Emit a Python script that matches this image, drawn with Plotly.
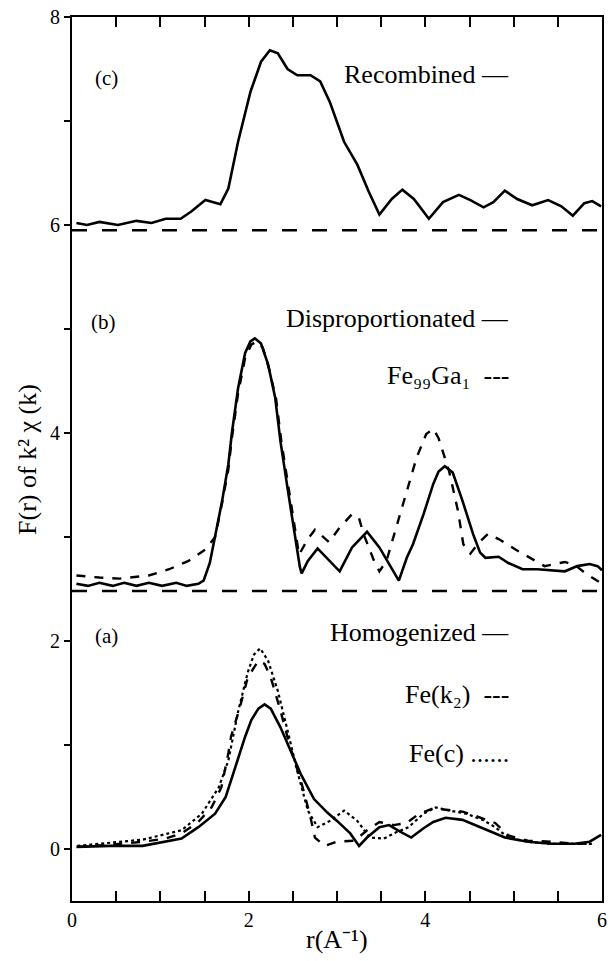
import plotly.graph_objects as go

# ---------------- data ----------------
# (c) Recombined
rec_x = [0.05, 0.17, 0.31, 0.52, 0.73, 0.90, 1.06, 1.23, 1.35, 1.51, 1.68, 1.77, 1.88, 2.02,
         2.14, 2.24, 2.33, 2.44, 2.55, 2.70, 2.81, 2.92, 3.08, 3.23, 3.36, 3.48, 3.62, 3.74,
         3.87, 4.04, 4.20, 4.38, 4.51, 4.66, 4.77, 4.90, 5.04, 5.21, 5.39, 5.54, 5.67, 5.80,
         5.89, 5.99]
rec_y = [6.02, 6.00, 6.03, 6.00, 6.04, 6.02, 6.06, 6.06, 6.13, 6.24, 6.20, 6.35, 6.80, 7.28,
         7.57, 7.68, 7.65, 7.50, 7.44, 7.44, 7.38, 7.18, 6.80, 6.58, 6.32, 6.10, 6.25, 6.34,
         6.25, 6.06, 6.22, 6.29, 6.24, 6.17, 6.22, 6.33, 6.25, 6.19, 6.24, 6.18, 6.09, 6.21,
         6.23, 6.18]

# (b) Disproportionated (solid)
dis_x = [0.05, 0.18, 0.31, 0.46, 0.59, 0.73, 0.87, 1.02, 1.18, 1.30, 1.43, 1.49, 1.56, 1.62,
         1.70, 1.77, 1.81, 1.88, 1.96, 2.02, 2.07, 2.14, 2.22, 2.30, 2.36, 2.44, 2.52, 2.58,
         2.60, 2.67, 2.78, 2.89, 3.03, 3.17, 3.34, 3.48, 3.62, 3.70, 3.79, 3.86, 3.98, 4.09,
         4.15, 4.22, 4.31, 4.42, 4.54, 4.62, 4.68, 4.83, 4.94, 5.10, 5.27, 5.43, 5.58, 5.72,
         5.86, 5.95, 6.00]
dis_y = [2.55, 2.53, 2.56, 2.53, 2.56, 2.53, 2.56, 2.53, 2.56, 2.53, 2.55, 2.58, 2.75, 3.00,
         3.35, 3.70, 4.00, 4.43, 4.77, 4.88, 4.91, 4.86, 4.66, 4.34, 3.92, 3.47, 3.03, 2.71,
         2.65, 2.77, 2.89, 2.79, 2.67, 2.90, 3.05, 2.90, 2.69, 2.58, 2.80, 2.93, 3.22, 3.51,
         3.63, 3.68, 3.62, 3.35, 3.03, 2.85, 2.80, 2.81, 2.75, 2.69, 2.69, 2.68, 2.67, 2.72,
         2.74, 2.72, 2.68]

# (b) Fe99Ga1 (dashed)
fega_x = [0.05, 0.31, 0.54, 0.87, 1.10, 1.32, 1.51, 1.62, 1.70, 1.77, 1.81, 1.88, 1.96, 2.03,
          2.09, 2.16, 2.23, 2.31, 2.37, 2.45, 2.53, 2.57, 2.67, 2.75, 2.83, 2.91, 3.02, 3.17,
          3.25, 3.30, 3.42, 3.48, 3.56, 3.67, 3.79, 3.90, 4.01, 4.09, 4.15, 4.27, 4.37, 4.43,
          4.51, 4.60, 4.71, 4.83, 5.02, 5.21, 5.35, 5.58, 5.71, 5.83, 6.00]
fega_y = [2.63, 2.61, 2.60, 2.63, 2.69, 2.77, 2.88, 3.00, 3.33, 3.65, 3.95, 4.38, 4.72, 4.85,
          4.88, 4.82, 4.62, 4.33, 3.92, 3.47, 3.03, 2.83, 2.98, 3.07, 3.01, 2.95, 3.08, 3.22,
          3.18, 3.03, 2.77, 2.67, 2.77, 3.09, 3.44, 3.76, 3.99, 4.04, 3.95, 3.63, 3.25, 2.93,
          2.84, 2.94, 3.03, 2.98, 2.88, 2.79, 2.72, 2.76, 2.72, 2.64, 2.55]

# (a) Homogenized (solid)
hom_x = [0.05, 0.43, 0.80, 1.06, 1.24, 1.43, 1.62, 1.74, 1.85, 1.96, 2.03, 2.11, 2.18, 2.25,
         2.36, 2.47, 2.59, 2.74, 2.89, 3.00, 3.15, 3.25, 3.34, 3.48, 3.59, 3.71, 3.84, 3.98,
         4.09, 4.23, 4.42, 4.65, 4.90, 5.16, 5.43, 5.69, 5.86, 5.99]
hom_y = [0.02, 0.03, 0.03, 0.07, 0.10, 0.21, 0.34, 0.50, 0.79, 1.08, 1.24, 1.35, 1.39, 1.35,
         1.17, 0.95, 0.72, 0.48, 0.35, 0.27, 0.15, 0.03, 0.11, 0.21, 0.23, 0.17, 0.11, 0.20,
         0.26, 0.30, 0.28, 0.20, 0.11, 0.07, 0.05, 0.05, 0.07, 0.135]

# (a) Fe(k2) (dashed)
fek_x = [0.06, 0.43, 0.80, 1.06, 1.24, 1.43, 1.58, 1.69, 1.77, 1.80, 1.90, 1.99, 2.11, 2.18,
         2.25, 2.36, 2.47, 2.59, 2.69, 2.75, 2.86, 3.00, 3.20, 3.34, 3.48, 3.64, 3.79, 3.93,
         4.09, 4.23, 4.42, 4.60, 4.79, 4.94, 5.16, 5.43, 5.69, 5.91]
fek_y = [0.02, 0.04, 0.07, 0.10, 0.15, 0.26, 0.40, 0.59, 0.92, 1.08, 1.36, 1.65, 1.81, 1.78,
         1.65, 1.33, 0.98, 0.66, 0.34, 0.11, 0.03, 0.07, 0.08, 0.18, 0.26, 0.23, 0.25, 0.34,
         0.39, 0.38, 0.36, 0.31, 0.25, 0.13, 0.08, 0.07, 0.05, 0.05]

# (a) Fe(c) (dotted)
fec_x = [0.06, 0.80, 1.24, 1.47, 1.66, 1.77, 1.88, 1.99, 2.06, 2.13, 2.22, 2.33, 2.44, 2.55,
         2.67, 2.78, 2.92, 3.08, 3.23, 3.37, 3.53, 3.67, 3.81, 3.98, 4.12, 4.27, 4.46, 4.65,
         4.79, 4.94, 5.16, 5.43, 5.69, 5.91]
fec_y = [0.03, 0.09, 0.18, 0.34, 0.59, 0.85, 1.32, 1.70, 1.87, 1.93, 1.81, 1.52, 1.14, 0.75,
         0.37, 0.21, 0.27, 0.37, 0.27, 0.11, 0.10, 0.16, 0.21, 0.34, 0.40, 0.37, 0.34, 0.28,
         0.21, 0.11, 0.07, 0.05, 0.05, 0.05]

# axis ticks: every position gets a tick, labels only on the even values
x_tickvals = [0, 0.5, 1, 1.5, 2, 2.5, 3, 3.5, 4, 4.5, 5, 5.5, 6]
x_ticktext = ["0", "", "", "", "2", "", "", "", "4", "", "", "", "6"]
y_tickvals = [0, 1, 2, 3, 4, 5, 6, 7, 8]
y_ticktext = ["0", "", "2", "", "4", "", "6", "", "8"]
x_range = [0, 6]

# panel boundaries (dashed separators) in y units
separators = [5.95, 2.48]

# panel labels and legend texts
panel_labels = ["(c)", "(b)", "(a)"]
panel_label_x = [0.39, 0.36, 0.39]
panel_label_y = [7.41, 5.07, 2.05]
legend_texts = ["Recombined —", "Disproportionated —", "Fe₉₉Ga₁  ---",
                "Homogenized —", "Fe(k₂)  ---", "Fe(c) ......"]
legend_y = [7.45, 5.10, 4.55, 2.08, 1.49, 0.92]
x_title = "r(A⁻¹)"
y_title = "F(r) of k² χ (k)"

FONT = "Liberation Serif"

fig = go.Figure()
fig.add_trace(go.Scatter(x=rec_x, y=rec_y, mode="lines", line=dict(color="black", width=2.6)))
fig.add_trace(go.Scatter(x=dis_x, y=dis_y, mode="lines", line=dict(color="black", width=2.6)))
fig.add_trace(go.Scatter(x=fega_x, y=fega_y, mode="lines", line=dict(color="black", width=2.4, dash="dash")))
fig.add_trace(go.Scatter(x=hom_x, y=hom_y, mode="lines", line=dict(color="black", width=2.6)))
fig.add_trace(go.Scatter(x=fek_x, y=fek_y, mode="lines", line=dict(color="black", width=2.4, dash="dash")))
fig.add_trace(go.Scatter(x=fec_x, y=fec_y, mode="lines", line=dict(color="black", width=2.2, dash="dot")))

for s in separators:
    fig.add_trace(go.Scatter(x=x_range, y=[s, s], mode="lines",
                             line=dict(color="black", width=2.5, dash="longdash")))

for lab, xx, yy in zip(panel_labels, panel_label_x, panel_label_y):
    fig.add_annotation(x=xx, y=yy, text=lab, showarrow=False,
                       xanchor="center", yanchor="middle", font=dict(family=FONT, size=21, color="black"))
for txt, yy in zip(legend_texts, legend_y):
    fig.add_annotation(x=4.97, y=yy, text=txt, showarrow=False, xanchor="right", yanchor="middle",
                       font=dict(family=FONT, size=26, color="black"))

# axis titles as annotations
fig.add_annotation(xref="paper", yref="paper", x=0.5, y=-0.044, text=x_title, showarrow=False,
                   xanchor="center", yanchor="middle", font=dict(family=FONT, size=26, color="black"))
fig.add_annotation(xref="paper", yref="paper", x=-0.085, y=0.5, text=y_title, showarrow=False,
                   textangle=-90, xanchor="center", yanchor="middle",
                   font=dict(family=FONT, size=26, color="black"))

fig.update_layout(
    width=613, height=961,
    margin=dict(l=72, r=6, t=15, b=60),
    paper_bgcolor="white", plot_bgcolor="white",
    showlegend=False,
    xaxis=dict(range=x_range, tickmode="array", tickvals=x_tickvals, ticktext=x_ticktext,
               ticks="inside", ticklen=10, tickwidth=2,
               tickcolor="black", showline=True, linecolor="black", linewidth=2, mirror="ticks",
               showgrid=False, zeroline=False,
               tickfont=dict(family=FONT, size=20, color="black")),
    yaxis=dict(range=[-0.5, 8], tickmode="array", tickvals=y_tickvals, ticktext=y_ticktext,
               ticks="outside", ticklen=6, tickwidth=2,
               tickcolor="black", showline=True, linecolor="black", linewidth=2, mirror=True,
               showgrid=False, zeroline=False,
               tickfont=dict(family=FONT, size=20, color="black")),
)

fig.write_html("out.html")
